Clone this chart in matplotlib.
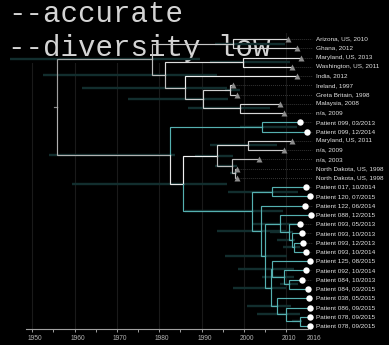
import re
import matplotlib
matplotlib.use("Agg")
import matplotlib.pyplot as plt
from matplotlib.transforms import ScaledTranslation

# ---- data -------------------------------------------------------------
tip_labels = [
    "Arizona, US, 2010", "Ghana, 2012", "Maryland, US, 2013",
    "Washington, US, 2011", "India, 2012", "Ireland, 1997",
    "Greta Britain, 1998", "Malaysia, 2008", "n/a, 2009",
    "Patient 099, 03/2013", "Patient 099, 12/2014", "Maryland, US, 2011",
    "n/a, 2009", "n/a, 2003", "North Dakota, US, 1998",
    "North Dakota, US, 1998", "Patient 017, 10/2014", "Patient 120, 07/2015",
    "Patient 122, 06/2014", "Patient 088, 12/2015", "Patient 093, 05/2013",
    "Patient 093, 10/2013", "Patient 093, 12/2013", "Patient 093, 10/2014",
    "Patient 125, 08/2015", "Patient 092, 10/2014", "Patient 084, 10/2013",
    "Patient 084, 03/2015", "Patient 038, 05/2015", "Patient 086, 09/2015",
    "Patient 078, 09/2015", "Patient 078, 09/2015",
]

# internal nodes: name, date (decimal year), children, 95% HPD of the date
node_names = ["root", "N1", "N8", "N2", "N3", "N4", "N5", "N6", "N7",
              "L", "P99", "M", "N9", "N10", "N11", "N12",
              "A", "B", "C", "D", "E", "G", "G2", "G3",
              "F", "H", "H2", "H3", "I", "I2", "I3"]
node_dates = [1955.84, 1978.23, 1997.45, 1981.37, 1999.88, 1986.10, 1990.43,
              1996.74, 1999.10,
              1982.55, 2004.30, 1985.63, 1993.66, 2000.99, 1997.21, 1997.92,
              2001.94, 2006.60, 2003.99, 2005.01, 2008.56, 2010.76, 2011.32,
              2011.94,
              2006.36, 2006.74, 2009.50, 2010.80, 2007.78, 2009.86, 2013.17]
node_children = [
    ["N1", "L"], ["N8", "N2"], [0, 1], ["N3", "N4"], [2, 3], [4, "N5"],
    ["N6", "N7"], [5, 6], [7, 8],
    ["P99", "M"], [9, 10], ["N9", "A"], ["N10", "N11"], [11, 12],
    [13, "N12"], [14, 15],
    ["B", "C"], [16, 17], [18, "D"], ["E", "F"], [19, "G"], [20, "G2"],
    [21, "G3"], [22, 23],
    ["H", "I"], [24, "H2"], [25, "H3"], [26, 27], [28, "I2"], [29, "I3"],
    [30, 31],
]
hpd_low = [None, 1944.7, 1993.2, 1952.5, 1992.0, 1961.8, 1972.6, 1995.6,
           1986.8,
           1953.9, 1999.1, 1959.4, 1988.5, 1992.0, 1993.2, 1996.7,
           1986.1, 1996.3, 1993.7, 1995.5, 2002.2, 2006.2, 2007.9, 2009.3,
           1997.4, 1998.6, 2004.3, 2008.6, 2000.8, 2003.1, 2011.4]
hpd_high = [None, 1989.6, 2009.7, 1993.7, 2010.9, 1996.0, 1996.3, 1999.1,
            2006.2,
            1983.7, 2012.6, 1996.0, 1997.4, 2007.8, 1998.4, 1998.4,
            2009.3, 2012.8, 2010.0, 2010.2, 2012.6, 2011.6, 2012.1, 2013.3,
            2010.0, 2011.9, 2011.9, 2012.8, 2011.2, 2013.3, 2013.8]
root_stem_start = 1955.13

# branch shades for the reference (non-patient) lineages
ref_shade = {"N1": "#a0a0a0", "L": "#b0b0b0", "N8": "#c6c6c6",
             "N2": "#bababa", "N3": "#dcdcdc", "N4": "#c0c0c0",
             "N5": "#c8c8c8", "N6": "#d0d0d0", "N7": "#d0d0d0",
             "M": "#e6e6e6", "N9": "#f2f2f2", "N10": "#d8d8d8",
             "N11": "#bcbcbc", "N12": "#c4c4c4"}
tip_shade = {0: "#d8d8d8", 1: "#d8d8d8", 2: "#e4e4e4", 3: "#ededed",
             4: "#f0f0f0", 5: "#cfcfcf", 6: "#cfcfcf", 7: "#d6d6d6",
             8: "#d6d6d6", 11: "#d0d0d0", 12: "#c6c6c6", 13: "#bdbdbd",
             14: "#c4c4c4", 15: "#c4c4c4"}
patient_roots = ["P99", "A"]

TEAL = "#55b0b0"
HPD = "#122e2e"

decade_ticks = [1950, 1960, 1970, 1980, 1990, 2000, 2010, 2016]
minor_ticks = [1955, 1965, 1975, 1985, 1995, 2005]


def label_date(text):
    m = re.search(r"(\d{2})/(\d{4})", text)
    if m:
        return int(m.group(2)) + (int(m.group(1)) - 0.5) / 12.0
    return int(re.search(r"(\d{4})", text).group(1)) + 0.5


tip_dates = [label_date(t) for t in tip_labels]

# ---- tree layout --------------------------------------------------------
idx = {n: i for i, n in enumerate(node_names)}
pos = {}


def place(key):
    if isinstance(key, int):
        pos[key] = (tip_dates[key], float(key))
        return pos[key]
    i = idx[key]
    ys = [place(c)[1] for c in node_children[i]]
    pos[key] = (node_dates[i], sum(ys) / len(ys))
    return pos[key]


place("root")

patient_set = set()


def mark(key):
    patient_set.add(key)
    if not isinstance(key, int):
        for c in node_children[idx[key]]:
            mark(c)


for r in patient_roots:
    mark(r)


def colour(key):
    if key in patient_set:
        return TEAL
    if isinstance(key, int):
        return tip_shade.get(key, "#cccccc")
    return ref_shade.get(key, "#bbbbbb")


# ---- figure -----------------------------------------------------------
W, H = 389, 345
fig = plt.figure(figsize=(W / 100, H / 100), dpi=100, facecolor="black")
x0, x1 = 1948.5, 2016.5
px_left, px_right = 25.96, 313.6
ax = fig.add_axes([px_left / W, 1 - 329 / H, (px_right - px_left) / W,
                   (329 - 33) / H])
ax.set_facecolor("black")
ax.set_xlim(x0, x1)
ax.set_ylim(31.32, -0.648)

for g in decade_ticks[:-1]:
    ax.axvline(g, color="#1a1a1a", lw=0.8, zorder=0.5)

# titles
title_kw = dict(transform=fig.transFigure, family="Liberation Mono",
                fontsize=21, color="#d4d4d4", ha="left", va="baseline",
                clip_on=False)
ax.text(8 / W, 1 - 22 / H, "--accurate", zorder=0.8,
        bbox=dict(facecolor="black", edgecolor="none", pad=1), **title_kw)
ax.text(8 / W, 1 - 56 / H, "--diversity low", zorder=0.8,
        bbox=dict(facecolor="black", edgecolor="none", pad=1), **title_kw)

# node age intervals
for i, n in enumerate(node_names):
    if hpd_low[i] is None:
        continue
    ax.plot([hpd_low[i], hpd_high[i]], [pos[n][1]] * 2, color=HPD, lw=1.7,
            solid_capstyle="butt", zorder=1, clip_on=False)

# branches
lw = 0.85
rx, ry = pos["root"]
ax.plot([root_stem_start, rx], [ry, ry], color="#8a8a8a", lw=lw, zorder=2,
        clip_on=False)
for i, n in enumerate(node_names):
    px_, py_ = pos[n]
    for c in node_children[i]:
        cx, cy = pos[c]
        col = colour(c)
        ax.plot([px_, px_, cx], [py_, cy, cy], color=col, lw=lw, zorder=2,
                solid_joinstyle="miter", clip_on=False)

# tips, leaders and labels
leader_end = 2016.1
label_x = 2017.07
for k, lab in enumerate(tip_labels):
    tx, ty = pos[k]
    ax.plot([tx, leader_end], [ty, ty], color="#555555", lw=0.55,
            ls=(0, (1, 1.6)), zorder=1.5, clip_on=False)
    if lab.startswith("Patient"):
        ax.plot(tx, ty, "o", color="white", ms=4.6, mec="none", zorder=3,
                clip_on=False)
    else:
        ax.plot(tx, ty, "^", color="#8c8c8c", ms=3.8, mec="none", zorder=3,
                clip_on=False)
    ax.text(label_x, ty, lab, fontsize=4.6, family="Liberation Sans",
            color="#e2e2e2", ha="left", va="center", clip_on=False)

# axis
for s in ["top", "left", "right"]:
    ax.spines[s].set_visible(False)
ax.spines["bottom"].set_color("#a0a0a0")
ax.spines["bottom"].set_linewidth(0.8)
ax.spines["bottom"].set_bounds(x0, 2015.2)
ax.set_yticks([])
ax.set_xticks(decade_ticks)
ax.set_xticks(minor_ticks, minor=True)
ax.set_xticklabels([str(t) for t in decade_ticks])
ax.tick_params(axis="x", which="major", colors="#a0a0a0", length=2.5,
               width=0.7, pad=2.0, labelsize=4.8, labelcolor="#b4b4b4")
ax.tick_params(axis="x", which="minor", colors="#a0a0a0", length=1.8,
               width=0.7)
ax.xaxis.get_major_ticks()[-1].tick1line.set_visible(False)
shift = ScaledTranslation(3 / 100, 0, fig.dpi_scale_trans)
for lbl in ax.get_xticklabels():
    lbl.set_family("Liberation Sans")
    lbl.set_transform(lbl.get_transform() + shift)

fig.savefig("out.png", dpi=100, facecolor="black")
